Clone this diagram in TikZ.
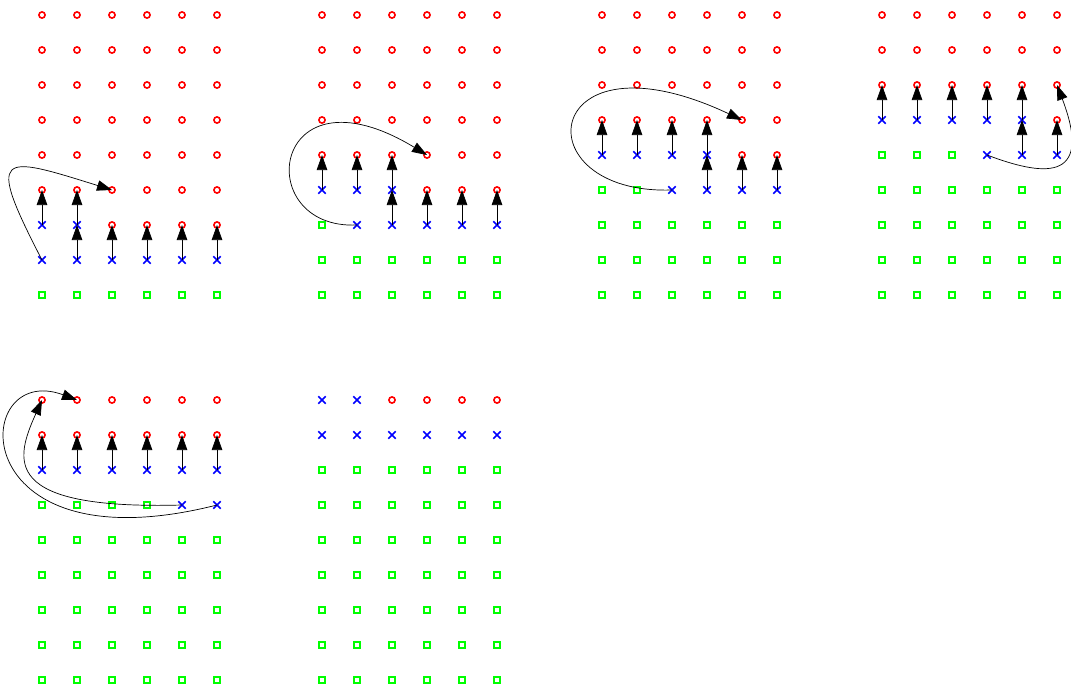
\documentclass[tikz,border=0pt]{standalone}
\usetikzlibrary{arrows.meta,shapes.misc}

\definecolor{holered}{rgb}{1,0,0}
\definecolor{pegblue}{rgb}{0,0,1}
\definecolor{homegreen}{rgb}{0,1,0}

\tikzset{
  hole/.style={circle,draw=holered,line width=1.6pt,minimum size=6.2pt,inner sep=0pt},
  peg/.style={cross out,draw=pegblue,line width=1.6pt,minimum size=5.8pt,inner sep=0pt},
  home/.style={rectangle,draw=homegreen,line width=1.5pt,minimum size=5.8pt,inner sep=0pt},
  jump/.style={-{Triangle[length=15pt,width=10.5pt]},line width=0.7pt},
}

% #1 name, #2 x, #3 y, #4 rows
\newcommand{\board}[4]{
  \foreach \r/\ca/\cb/\cc/\cd/\ce/\cf in {#4}
    \foreach \c/\t in {0/\ca,1/\cb,2/\cc,3/\cd,4/\ce,5/\cf}
      \node[\t] (#1-\r-\c) at (#2+35*\c,#3+35*\r) {};
}

\begin{document}
\begin{tikzpicture}[x=1pt,y=-1pt]
\useasboundingbox (0,0) rectangle (1071,691);

\board{A}{42}{15}{0/hole/hole/hole/hole/hole/hole,1/hole/hole/hole/hole/hole/hole,
  2/hole/hole/hole/hole/hole/hole,3/hole/hole/hole/hole/hole/hole,
  4/hole/hole/hole/hole/hole/hole,5/hole/hole/hole/hole/hole/hole,
  6/peg/peg/hole/hole/hole/hole,7/peg/peg/peg/peg/peg/peg,
  8/home/home/home/home/home/home}
\board{B}{322}{15}{0/hole/hole/hole/hole/hole/hole,1/hole/hole/hole/hole/hole/hole,
  2/hole/hole/hole/hole/hole/hole,3/hole/hole/hole/hole/hole/hole,
  4/hole/hole/hole/hole/hole/hole,5/peg/peg/peg/hole/hole/hole,
  6/home/peg/peg/peg/peg/peg,7/home/home/home/home/home/home,
  8/home/home/home/home/home/home}
\board{C}{602}{15}{0/hole/hole/hole/hole/hole/hole,1/hole/hole/hole/hole/hole/hole,
  2/hole/hole/hole/hole/hole/hole,3/hole/hole/hole/hole/hole/hole,
  4/peg/peg/peg/peg/hole/hole,5/home/home/peg/peg/peg/peg,
  6/home/home/home/home/home/home,7/home/home/home/home/home/home,
  8/home/home/home/home/home/home}
\board{D}{882}{15}{0/hole/hole/hole/hole/hole/hole,1/hole/hole/hole/hole/hole/hole,
  2/hole/hole/hole/hole/hole/hole,3/peg/peg/peg/peg/peg/hole,
  4/home/home/home/peg/peg/peg,5/home/home/home/home/home/home,
  6/home/home/home/home/home/home,7/home/home/home/home/home/home,
  8/home/home/home/home/home/home}
\board{E}{42}{400}{0/hole/hole/hole/hole/hole/hole,1/hole/hole/hole/hole/hole/hole,
  2/peg/peg/peg/peg/peg/peg,3/home/home/home/home/peg/peg,
  4/home/home/home/home/home/home,5/home/home/home/home/home/home,
  6/home/home/home/home/home/home,7/home/home/home/home/home/home,
  8/home/home/home/home/home/home}
\board{F}{322}{400}{0/peg/peg/hole/hole/hole/hole,1/peg/peg/peg/peg/peg/peg,
  2/home/home/home/home/home/home,3/home/home/home/home/home/home,
  4/home/home/home/home/home/home,5/home/home/home/home/home/home,
  6/home/home/home/home/home/home,7/home/home/home/home/home/home,
  8/home/home/home/home/home/home}

\foreach \a/\b in {A-6-0/A-5-0,A-6-1/A-5-1,A-7-1/A-6-1,A-7-2/A-6-2,A-7-3/A-6-3,
    A-7-4/A-6-4,A-7-5/A-6-5,
    B-5-0/B-4-0,B-5-1/B-4-1,B-5-2/B-4-2,B-6-2/B-5-2,B-6-3/B-5-3,B-6-4/B-5-4,B-6-5/B-5-5,
    C-4-0/C-3-0,C-4-1/C-3-1,C-4-2/C-3-2,C-4-3/C-3-3,C-5-3/C-4-3,C-5-4/C-4-4,C-5-5/C-4-5,
    D-3-0/D-2-0,D-3-1/D-2-1,D-3-2/D-2-2,D-3-3/D-2-3,D-3-4/D-2-4,D-4-4/D-3-4,D-4-5/D-3-5,
    E-2-0/E-1-0,E-2-1/E-1-1,E-2-2/E-1-2,E-2-3/E-1-3,E-2-4/E-1-4,E-2-5/E-1-5}
  \draw[jump] (\a.center) -- (\b.center);

\draw[jump] (A-7-0.center) .. controls +(-57,-110) and +(-112,-35) .. (A-5-2.center);
\draw[jump] (B-6-1.center) .. controls +(-107,5) and +(-157,-95) .. (B-4-3.center);
\draw[jump] (C-5-2.center) .. controls +(-152,5) and +(-202,-95) .. (C-3-4.center);
\draw[jump] (D-4-3.center) .. controls +(53,20) and +(38,100) .. (D-2-5.center);
\draw[jump] (E-3-4.center) .. controls +(-182,5) and +(-27,60) .. (E-0-0.center);
\draw[jump] (E-3-5.center) .. controls +(-257,65) and +(-107,-40) .. (E-0-1.center);
\end{tikzpicture}
\end{document}
